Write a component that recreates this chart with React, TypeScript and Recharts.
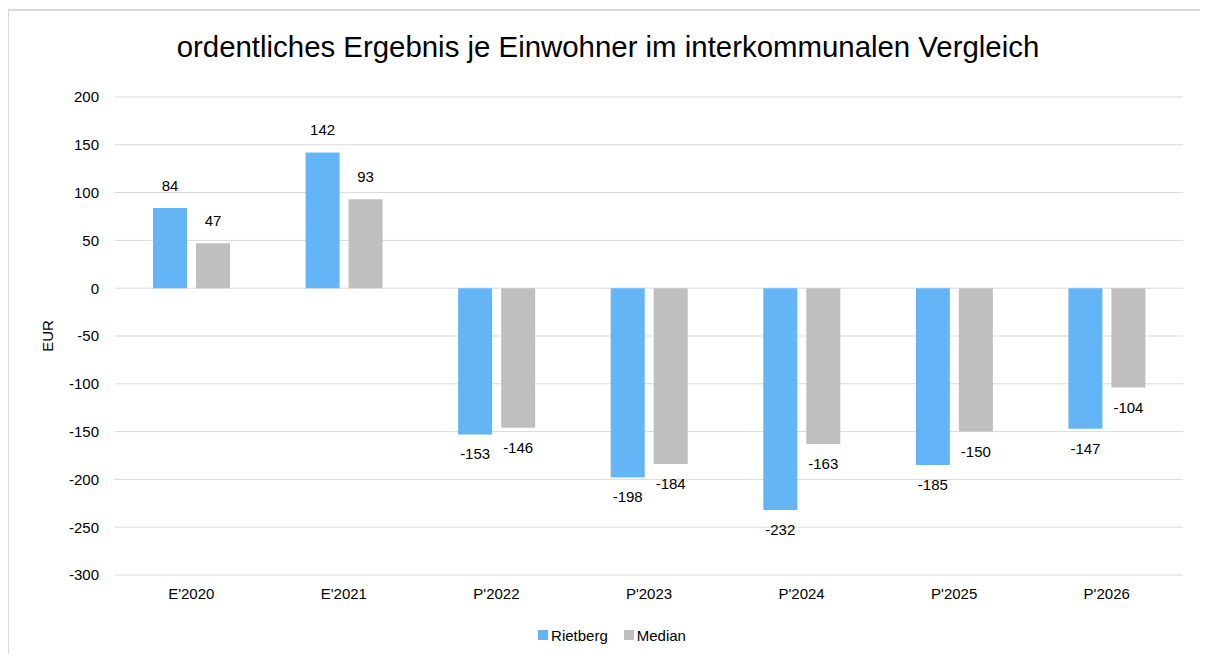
import React from "react";
import { BarChart, Bar, XAxis, YAxis, CartesianGrid, Legend, LabelList } from "recharts";

const years = ["E'2020", "E'2021", "P'2022", "P'2023", "P'2024", "P'2025", "P'2026"];
const rietberg = [84, 142, -153, -198, -232, -185, -147];
const median = [47, 93, -146, -184, -163, -150, -104];
const yTicks = [-300, -250, -200, -150, -100, -50, 0, 50, 100, 150, 200];

const data = years.map((year, i) => ({ year, rietberg: rietberg[i], median: median[i] }));

const BLUE = "#63B5F5";
const GRAY = "#BFBFBF";
const FONT = "'Liberation Sans', Arial, sans-serif";

// Wert über bzw. unter dem Balkenende
const renderValue = (props: any) => {
  const { x, y, width, height, value } = props;
  const top = Math.min(y, y + height);
  const bottom = Math.max(y, y + height);
  const ty = value >= 0 ? top - 21 : bottom + 21;
  return (
    <text
      x={x + width / 2}
      y={ty}
      textAnchor="middle"
      dominantBaseline="middle"
      fontSize={15}
      fontFamily={FONT}
      fill="#000"
    >
      {value}
    </text>
  );
};

const renderLegend = () => (
  <div
    style={{
      display: "flex",
      justifyContent: "center",
      alignItems: "center",
      gap: 16,
      height: 20,
      paddingLeft: 8,
      fontFamily: FONT,
      fontSize: 15,
      color: "#000",
    }}
  >
    <div style={{ display: "flex", alignItems: "center", gap: 3 }}>
      <span style={{ display: "inline-block", width: 10, height: 10, background: BLUE }} />
      <span>Rietberg</span>
    </div>
    <div style={{ display: "flex", alignItems: "center", gap: 3 }}>
      <span style={{ display: "inline-block", width: 10, height: 10, background: GRAY }} />
      <span>Median</span>
    </div>
  </div>
);

export default function App() {
  return (
    <div style={{ position: "relative", width: 1200, height: 646, background: "#fff" }}>
      <div
        style={{
          position: "absolute",
          top: 23,
          left: 0,
          width: 1200,
          textAlign: "center",
          fontFamily: FONT,
          fontSize: 29.4,
          lineHeight: "32px",
          color: "#000",
        }}
      >
        ordentliches Ergebnis je Einwohner im interkommunalen Vergleich
      </div>
      <BarChart
        width={1200}
        height={646}
        data={data}
        margin={{ top: 89, right: 25, left: 27, bottom: 29 }}
        barSize={34}
        barGap={9}
        style={{ position: "absolute", left: 0, top: 0 }}
      >
        <CartesianGrid vertical={false} stroke="#D9D9D9" strokeWidth={1} />
        <XAxis
          dataKey="year"
          axisLine={false}
          tickLine={false}
          tickSize={0}
          tickMargin={13}
          height={30}
          tick={{ fontSize: 15, fill: "#000", fontFamily: FONT }}
        />
        <YAxis
          width={80}
          domain={[-300, 200]}
          ticks={yTicks}
          interval={0}
          axisLine={false}
          tickLine={false}
          tickSize={0}
          tickMargin={16}
          tick={{ fontSize: 15, fill: "#000", fontFamily: FONT }}
          label={{
            value: "EUR",
            angle: -90,
            position: "insideLeft",
            offset: 13,
            style: { textAnchor: "middle", fontSize: 15, fill: "#000", fontFamily: FONT },
          }}
        />
        <Legend verticalAlign="bottom" content={renderLegend} wrapperStyle={{ bottom: 9, left: 0, width: 1200 }} />
        <Bar dataKey="rietberg" name="Rietberg" fill={BLUE} isAnimationActive={false}>
          <LabelList dataKey="rietberg" content={renderValue} />
        </Bar>
        <Bar dataKey="median" name="Median" fill={GRAY} isAnimationActive={false}>
          <LabelList dataKey="median" content={renderValue} />
        </Bar>
      </BarChart>
      {/* Rahmen wie im Original (rechts/unten abgeschnitten) */}
      <div
        style={{
          position: "absolute",
          left: -1,
          top: 1,
          width: 1201,
          height: 645,
          borderTop: "2px solid #D9D9D9",
          borderLeft: "2px solid #D9D9D9",
          boxSizing: "border-box",
          pointerEvents: "none",
          zIndex: 2,
        }}
      />
    </div>
  );
}
